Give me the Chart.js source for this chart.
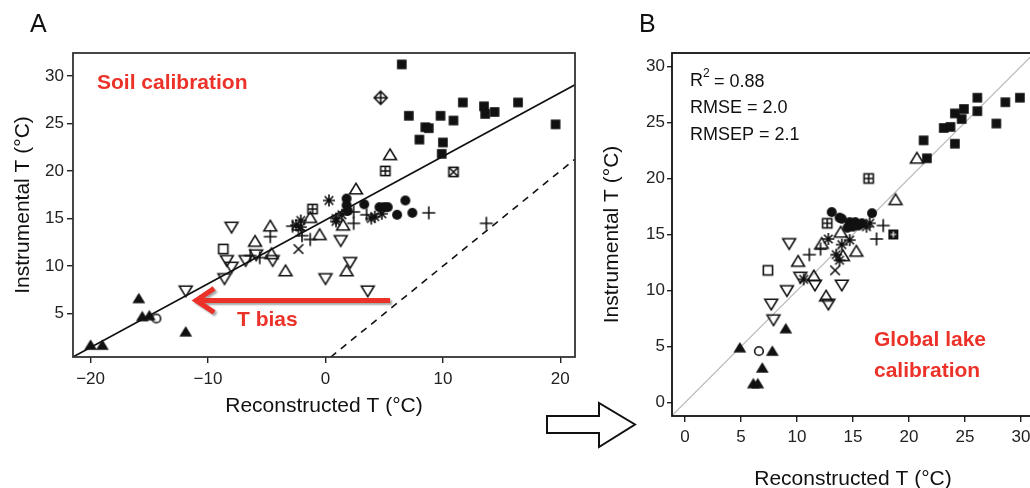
<!DOCTYPE html>
<html>
<head>
<meta charset="utf-8">
<script src="https://cdn.jsdelivr.net/npm/chart.js@4.4.1/dist/chart.umd.min.js"></script>
<style>
  body { margin: 0; width: 1030px; height: 488px; overflow: hidden; position: relative; background: #fff; }
  .wrap { position: absolute; top: 0; }
  .panel { position: absolute; font: 25px "Liberation Sans", Arial, sans-serif; color: #111; line-height: 1; }
</style>
</head>
<body>
<div class="wrap" style="left:0;width:600px;height:488px"><canvas id="chartA"></canvas></div>
<div class="wrap" style="left:590px;width:460px;height:500px"><canvas id="chartB"></canvas></div>
<div class="panel" style="left:30px;top:11px">A</div>
<div class="panel" style="left:639px;top:11px">B</div>
<svg style="position:absolute;left:0;top:0" width="1030" height="488">
  <polygon points="547,416 599,416 599,403 635,424.5 599,447 599,433 547,433" fill="#fff" stroke="#111" stroke-width="2"/>
</svg>
<script>
// ---- panel A: soil calibration (reconstructed vs instrumental T) ----
const xTicksA = [-20, -10, 0, 10, 20];
const yTicksA = [5, 10, 15, 20, 25, 30];
const soilFit = [[-21.5, 0.45], [21.25, 29.06]];
const oneToOneA = [[0.45, 0.45], [21.25, 21.25]];

const aFilledSquares = [[6.5,31.2],[7.1,25.8],[8.0,23.3],[8.5,24.6],[8.8,24.5],[9.8,25.8],[10.0,23.0],[9.9,21.8],[10.9,25.3],[11.7,27.2],[13.5,26.8],[13.6,26.0],[14.4,26.2],[16.4,27.2],[19.6,24.9]];
const aFilledCircles = [[1.8,17.1],[1.8,16.4],[1.9,15.8],[3.3,16.5],[4.6,16.2],[5.0,16.2],[5.3,16.2],[6.1,15.4],[6.8,16.9],[7.4,15.6]];
const aFilledTriangles = [[-20.0,1.7],[-19.0,1.7],[-15.9,6.6],[-15.6,4.7],[-15.0,4.8],[-11.9,3.1]];
const aTriangles = [[2.6,18.1],[5.5,21.7],[-4.7,14.2],[-1.3,15.1],[-0.5,13.3],[1.5,14.3],[-6.0,12.6],[-4.6,11.3],[-3.4,9.5],[1.8,9.5]];
const aDownTriangles = [[-8.0,14.1],[-8.4,10.6],[-8.0,9.9],[-8.6,8.7],[-11.9,7.4],[-6.8,10.6],[-5.9,11.2],[-4.5,10.6],[1.3,12.7],[2.1,10.4],[0.0,8.7],[3.6,7.4]];
const aPluses = [[8.8,15.6],[13.7,14.5],[2.4,15.7],[2.4,14.5],[3.5,15.4],[-4.7,13.1],[-2.8,14.2],[-2.3,13.8],[-1.3,12.8],[-2.0,13.2],[-5.6,10.9],[-6.4,11.1]];
const aAsterisks = [[0.3,16.9],[-2.1,14.8],[-2.1,14.1],[0.9,15.0],[0.9,14.7],[4.2,15.2],[3.9,15.0],[-2.5,14.3],[1.4,15.4],[4.8,15.5]];
const aOpenCircles = [[-14.4,4.5]];
const aOpenSquares = [[-8.7,11.8]];
const aCrosses = [[-2.3,11.8]];
const aDiamondPlus = [[4.7,27.7]];
const aSquareX = [[10.9,19.9]];
const aSquarePlus = [[5.1,20.0],[-1.1,16.0]];
const biasArrow = [[5.5, 6.4], [-11.1, 6.4]];

// ---- panel B: global lake calibration ----
const xTicksB = [0, 5, 10, 15, 20, 25, 30];
const yTicksB = [0, 5, 10, 15, 20, 25, 30];
const oneToOneB = [[-1.2, -1.2], [31.2, 31.2]];

const bFilledSquares = [[26.1,27.2],[29.9,27.2],[28.6,26.8],[24.9,26.2],[24.1,25.8],[26.1,26.0],[24.7,25.3],[23.1,24.5],[23.7,24.6],[27.8,24.9],[21.3,23.4],[24.1,23.1],[21.6,21.8]];
const bFilledCircles = [[13.1,17.0],[13.8,16.5],[14.7,16.1],[15.2,16.1],[15.5,15.8],[16.7,16.9],[15.0,15.7],[14.0,16.4],[15.8,16.0],[14.5,15.6]];
const bFilledTriangles = [[4.9,4.9],[7.8,4.6],[9.0,6.6],[6.9,3.1],[6.1,1.7],[6.5,1.7]];
const bTriangles = [[20.7,21.8],[18.8,18.1],[13.9,15.2],[12.2,14.2],[15.3,13.5],[14.1,13.1],[10.1,12.6],[11.5,11.3],[12.6,9.5]];
const bDownTriangles = [[9.3,14.2],[9.1,10.0],[7.7,8.8],[7.9,7.4],[10.3,11.2],[11.6,10.5],[12.8,8.8],[14.0,10.5]];
const bPluses = [[11.1,13.2],[17.1,14.6],[17.7,15.8],[12.1,13.7]];
const bAsterisks = [[12.8,14.6],[13.5,13.2],[13.8,12.7],[16.2,15.7],[16.5,16.0],[14.0,14.1],[14.7,14.5],[10.6,11.0]];
const bOpenCircles = [[6.6,4.6]];
const bOpenSquares = [[7.4,11.8]];
const bCrosses = [[13.4,11.8]];
const bSquarePlus = [[16.4,20.0],[12.7,16.0]];
const bSquarePlusDark = [[18.6,15.0]];

const FONT = '"Liberation Sans", Arial, Helvetica, sans-serif';
const RED = '#ec3228';
const INK = '#111';

// marker glyphs (R-style pch symbols) drawn onto small canvases
function makeMarker(kind) {
    const c = document.createElement('canvas');
    c.width = 18; c.height = 18;
    const g = c.getContext('2d');
    const m = 9;
    g.strokeStyle = INK; g.fillStyle = INK; g.lineWidth = 1.6;
    g.beginPath();
    if (kind === 'fsq') g.fillRect(m - 4.8, m - 4.8, 9.6, 9.6);
    if (kind === 'fci') { g.arc(m, m, 5, 0, 2 * Math.PI); g.fill(); }
    if (kind === 'ftri' || kind === 'tri') {
        g.moveTo(m, m - 5.8); g.lineTo(m + 6.4, m + 4.8); g.lineTo(m - 6.4, m + 4.8); g.closePath();
        kind === 'ftri' ? g.fill() : g.stroke();
    }
    if (kind === 'itri') {
        g.moveTo(m, m + 5.8); g.lineTo(m + 6.4, m - 4.8); g.lineTo(m - 6.4, m - 4.8); g.closePath(); g.stroke();
    }
    if (kind === 'ci') { g.arc(m, m, 4.3, 0, 2 * Math.PI); g.stroke(); }
    if (kind === 'sq' || kind === 'sqplus' || kind === 'sqx') g.strokeRect(m - 4.6, m - 4.6, 9.2, 9.2);
    if (kind === 'plus') { g.moveTo(m - 6.5, m); g.lineTo(m + 6.5, m); g.moveTo(m, m - 6.5); g.lineTo(m, m + 6.5); g.stroke(); }
    if (kind === 'x') { g.moveTo(m - 4.8, m - 4.8); g.lineTo(m + 4.8, m + 4.8); g.moveTo(m + 4.8, m - 4.8); g.lineTo(m - 4.8, m + 4.8); g.stroke(); }
    if (kind === 'ast') {
        g.moveTo(m - 6, m); g.lineTo(m + 6, m); g.moveTo(m, m - 6); g.lineTo(m, m + 6);
        g.moveTo(m - 4.3, m - 4.3); g.lineTo(m + 4.3, m + 4.3); g.moveTo(m + 4.3, m - 4.3); g.lineTo(m - 4.3, m + 4.3);
        g.stroke();
    }
    if (kind === 'sqplus') { g.moveTo(m - 4.5, m); g.lineTo(m + 4.5, m); g.moveTo(m, m - 4.5); g.lineTo(m, m + 4.5); g.stroke(); }
    if (kind === 'sqx') { g.moveTo(m - 4.5, m - 4.5); g.lineTo(m + 4.5, m + 4.5); g.moveTo(m + 4.5, m - 4.5); g.lineTo(m - 4.5, m + 4.5); g.stroke(); }
    if (kind === 'sqplusdark') {
        g.fillRect(m - 5, m - 5, 10, 10);
        g.strokeStyle = '#fff'; g.lineWidth = 1.2;
        g.moveTo(m - 3, m); g.lineTo(m + 3, m); g.moveTo(m, m - 3); g.lineTo(m, m + 3); g.stroke();
    }
    if (kind === 'dplus') {
        g.moveTo(m, m - 6.5); g.lineTo(m + 6.5, m); g.lineTo(m, m + 6.5); g.lineTo(m - 6.5, m); g.closePath();
        g.moveTo(m - 6.5, m); g.lineTo(m + 6.5, m); g.moveTo(m, m - 6.5); g.lineTo(m, m + 6.5);
        g.stroke();
    }
    return c;
}

function pts(arr) {
    return arr.map(p => ({ x: p[0], y: p[1] }));
}

function markers(arr, kind) {
    return { data: pts(arr), pointStyle: makeMarker(kind), pointRadius: 6, showLine: false, order: 1 };
}

function line(arr, color, width, dash) {
    return { data: pts(arr), showLine: true, pointRadius: 0, borderColor: color, borderWidth: width, borderDash: dash || [], order: 5 };
}

const minus = v => String(v).replace('-', '\u2212');

function axis(min, max, tickValues, title, fitSize, tickLen, pad, titlePad, horizontal) {
    return {
        type: 'linear',
        min: min,
        max: max,
        afterBuildTicks: s => { s.ticks = tickValues.map(v => ({ value: v })); },
        afterFit: s => { if (horizontal) s.height = fitSize; else s.width = fitSize; },
        ticks: { font: { family: FONT, size: 17 }, color: '#222', padding: pad, maxRotation: 0, autoSkip: false, callback: v => minus(v) },
        grid: { drawOnChartArea: false, drawTicks: true, tickLength: tickLen, color: '#222', lineWidth: 1.4 },
        border: { display: false },
        title: { display: true, text: title, font: { family: FONT, size: 21 }, color: INK, padding: titlePad }
    };
}

// red "T bias" arrow, labels and box for panel A
const panelAPlugin = {
    id: 'panelA',
    afterDatasetsDraw(chart) {
        const { ctx, chartArea: a, scales: { x, y } } = chart;
        ctx.save();
        ctx.strokeStyle = '#333';
        ctx.lineWidth = 1.8;
        ctx.strokeRect(a.left, a.top, a.right - a.left, a.bottom - a.top);

        ctx.fillStyle = RED;
        ctx.font = 'bold 21px ' + FONT;
        ctx.textBaseline = 'middle';
        ctx.fillText('Soil calibration', a.left + 24, a.top + 30);
        ctx.fillText('T bias', a.left + 164, a.top + 267);

        const x0 = x.getPixelForValue(biasArrow[0][0]);
        const x1 = x.getPixelForValue(biasArrow[1][0]);
        const yy = y.getPixelForValue(biasArrow[0][1]);
        ctx.shadowColor = 'rgba(0,0,0,0.35)';
        ctx.shadowOffsetX = 2;
        ctx.shadowOffsetY = 2;
        ctx.shadowBlur = 2;
        ctx.strokeStyle = RED;
        ctx.lineWidth = 5;
        ctx.lineJoin = 'miter';
        ctx.beginPath();
        ctx.moveTo(x0, yy);
        ctx.lineTo(x1 + 3, yy);
        ctx.moveTo(x1 + 19, yy - 12);
        ctx.lineTo(x1 + 1, yy);
        ctx.lineTo(x1 + 19, yy + 12);
        ctx.stroke();
        ctx.restore();
    }
};

// statistics text, label and box for panel B
const panelBPlugin = {
    id: 'panelB',
    afterDatasetsDraw(chart) {
        const { ctx, chartArea: a } = chart;
        ctx.save();
        ctx.strokeStyle = INK;
        ctx.lineWidth = 1.8;
        ctx.strokeRect(a.left, a.top, a.right - a.left, a.bottom - a.top);

        ctx.fillStyle = INK;
        ctx.textBaseline = 'middle';
        ctx.font = '18px ' + FONT;
        const lx = a.left + 18;
        ctx.fillText('R', lx, a.top + 28);
        const rw = ctx.measureText('R').width;
        ctx.font = '12px ' + FONT;
        ctx.fillText('2', lx + rw, a.top + 21);
        ctx.font = '18px ' + FONT;
        ctx.fillText(' = 0.88', lx + rw + 6, a.top + 29);
        ctx.fillText('RMSE = 2.0', lx, a.top + 55);
        ctx.fillText('RMSEP = 2.1', lx, a.top + 82);

        ctx.fillStyle = RED;
        ctx.font = 'bold 21px ' + FONT;
        ctx.fillText('Global lake', a.left + 202, a.top + 287);
        ctx.fillText('calibration', a.left + 202, a.top + 318);
        ctx.restore();
    }
};

const common = {
    responsive: true,
    maintainAspectRatio: false,
    animation: false,
    events: [],
    plugins: { legend: { display: false }, tooltip: { enabled: false } }
};

new Chart(document.getElementById('chartA'), {
    type: 'scatter',
    data: {
        datasets: [
            markers(aFilledSquares, 'fsq'),
            markers(aFilledCircles, 'fci'),
            markers(aFilledTriangles, 'ftri'),
            markers(aTriangles, 'tri'),
            markers(aDownTriangles, 'itri'),
            markers(aPluses, 'plus'),
            markers(aAsterisks, 'ast'),
            markers(aOpenCircles, 'ci'),
            markers(aOpenSquares, 'sq'),
            markers(aCrosses, 'x'),
            markers(aDiamondPlus, 'dplus'),
            markers(aSquareX, 'sqx'),
            markers(aSquarePlus, 'sqplus'),
            line(soilFit, INK, 1.6),
            line(oneToOneA, INK, 1.6, [7, 6])
        ]
    },
    options: Object.assign({}, common, {
        layout: { padding: { left: 0, right: 25, top: 53, bottom: 69 } },
        scales: {
            x: axis(-21.5, 21.25, xTicksA, 'Reconstructed T (°C)', 62, 6, 6, { top: 0, bottom: 0 }, true),
            y: axis(0.45, 32.4, yTicksA, 'Instrumental T (°C)', 73, 6, 3, { top: 11, bottom: 0 }, false)
        }
    }),
    plugins: [panelAPlugin]
});

new Chart(document.getElementById('chartB'), {
    type: 'scatter',
    data: {
        datasets: [
            markers(bFilledSquares, 'fsq'),
            markers(bFilledCircles, 'fci'),
            markers(bFilledTriangles, 'ftri'),
            markers(bTriangles, 'tri'),
            markers(bDownTriangles, 'itri'),
            markers(bPluses, 'plus'),
            markers(bAsterisks, 'ast'),
            markers(bOpenCircles, 'ci'),
            markers(bOpenSquares, 'sq'),
            markers(bCrosses, 'x'),
            markers(bSquarePlus, 'sqplus'),
            markers(bSquarePlusDark, 'sqplusdark'),
            line(oneToOneB, '#bbbbbb', 1.2)
        ]
    },
    options: Object.assign({}, common, {
        layout: { padding: { left: 0, right: 16, top: 53, bottom: 8 } },
        scales: {
            x: axis(-1.16, 31.16, xTicksB, 'Reconstructed T (°C)', 76, 6, 5, { top: 0, bottom: 0 }, true),
            y: axis(-1.19, 31.19, yTicksB, 'Instrumental T (°C)', 82, 5, 2, { top: 10, bottom: 0 }, false)
        }
    }),
    plugins: [panelBPlugin]
});
</script>
</body>
</html>
